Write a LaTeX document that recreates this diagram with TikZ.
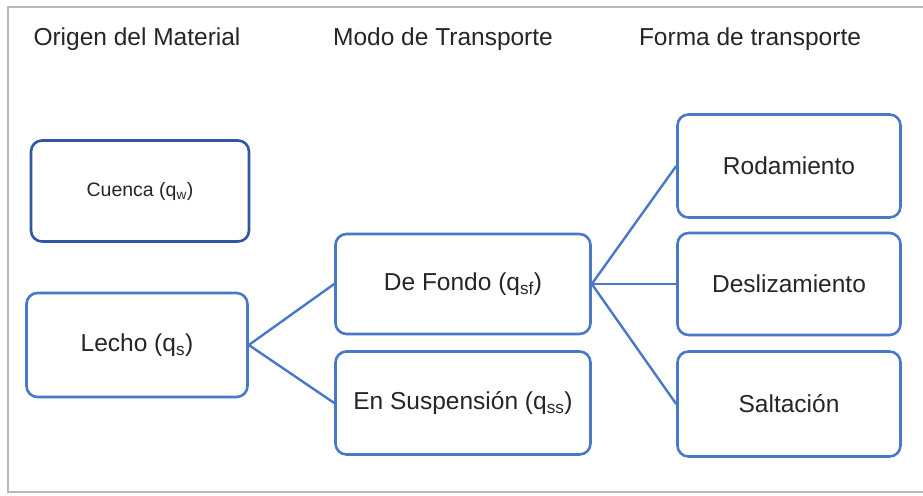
\documentclass[tikz,border=0pt]{standalone}
\usepackage{fontspec}
\setmainfont{Liberation Sans}
\definecolor{boxblue}{HTML}{4A78C8}
\definecolor{darkblue}{HTML}{2F55A4}
\definecolor{framegray}{HTML}{B8B8B8}
\begin{document}
\begin{tikzpicture}[x=1pt,y=-1pt,
  box/.style={draw=boxblue, line width=2.6pt, rounded corners=11pt, fill=white,
    inner sep=0pt, align=center, font=\fontsize{24.5}{28}\selectfont, text=black!85},
  hdr/.style={inner sep=0pt, font=\fontsize{24.5}{28}\selectfont, text=black!85},
  conn/.style={draw=boxblue, line width=2.4pt}]
\useasboundingbox (0,0) rectangle (923,495);
\fill[white] (0,0) rectangle (923,495);
\draw[framegray, line width=1.2pt] (8,7) rectangle (935,492);
% headers
\node[hdr] (h1) at (137,39) {Origen del Material};
\node[hdr] (h2) at (443,39) {Modo de Transporte};
\node[hdr] (h3) at (750,39) {Forma de transporte};
% boxes
\node[box, draw=darkblue, minimum width=218pt, minimum height=101pt, font=\fontsize{19.5}{23}\selectfont] (cuenca) at (140,191) {Cuenca (q\textsubscript{w})};
\node[box, minimum width=221pt, minimum height=104pt] (lecho) at (137,345) {Lecho (q\textsubscript{s})};
\node[box, minimum width=255pt, minimum height=100pt] (fondo) at (463,284) {De Fondo (q\textsubscript{sf})};
\node[box, minimum width=255pt, minimum height=103pt] (susp) at (463,403) {En Suspensión (q\textsubscript{ss})};
\node[box, minimum width=223pt, minimum height=103pt] (rod) at (789,166) {Rodamiento};
\node[box, minimum width=223pt, minimum height=102pt] (desl) at (789,284) {Deslizamiento};
\node[box, minimum width=223pt, minimum height=105pt] (salt) at (789,404) {Saltación};
% connectors
\draw[conn] (lecho.east) -- (fondo.west);
\draw[conn] (lecho.east) -- (susp.west);
\draw[conn] (fondo.east) -- (rod.west);
\draw[conn] (fondo.east) -- (desl.west);
\draw[conn] (fondo.east) -- (salt.west);
\end{tikzpicture}
\end{document}
